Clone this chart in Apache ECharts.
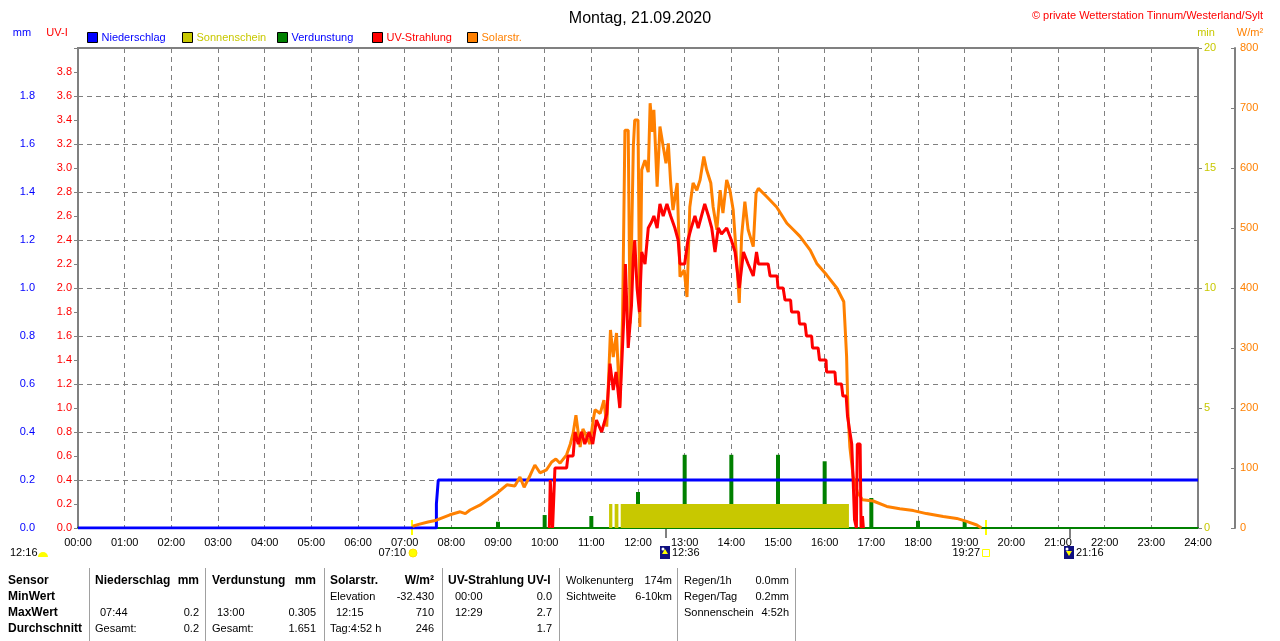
<!DOCTYPE html>
<html>
<head>
<meta charset="utf-8">
<title>Wetterstation Tinnum - 21.09.2020</title>
<script src="https://cdn.jsdelivr.net/npm/echarts@6/dist/echarts.min.js"></script>
<style>
html,body{margin:0;padding:0;background:#fff;}
#main{width:1280px;height:641px;}
</style>
</head>
<body>
<div id="main"></div>
<script>
// Niederschlag (mm, kumuliert)
var rainTimes = [0, 7.68, 7.72, 24];
var rainValues = [0, 0.1, 0.2, 0.2];

// Verdunstung (mm) zur vollen Stunde
var verdHours = [9, 10, 11, 12, 13, 14, 15, 16, 17, 18, 19];
var verdValues = [0.026, 0.054, 0.05, 0.15, 0.305, 0.305, 0.305, 0.278, 0.125, 0.03, 0.033];

// Sonnenschein (min pro Minute)
var sunStart = [11.38, 11.5, 11.63];
var sunEnd = [11.45, 11.58, 16.52];
var sunMinutes = [1, 1, 1];

// Solarstrahlung W/m²
var solarTimes = [7.17,7.3,7.5,7.68,7.97,8.19,8.3,8.4,8.61,8.83,8.98,9.19,9.36,9.47,9.56,9.69,9.79,9.9,10.04,10.15,10.24,10.33,10.47,10.55,10.61,10.67,10.76,10.82,10.97,11.04,11.08,11.19,11.27,11.33,11.41,11.47,11.54,11.61,11.67,11.72,11.79,11.83,11.9,11.93,12.0,12.04,12.08,12.15,12.22,12.26,12.31,12.34,12.41,12.47,12.54,12.6,12.65,12.7,12.75,12.84,12.9,12.99,13.05,13.11,13.18,13.26,13.33,13.41,13.47,13.56,13.61,13.69,13.76,13.82,13.9,13.97,14.04,14.11,14.17,14.22,14.29,14.36,14.47,14.53,14.58,14.76,14.97,15.19,15.33,15.47,15.69,15.83,16.04,16.26,16.41,16.43,16.47,16.5,16.54,16.61,16.7,16.81,17.04,17.33,17.61,17.9,18.18,18.54,18.83,19.04,19.26,19.36];
var solarValues = [3,6,10,13,22,27,24,30,38,50,58,72,70,85,68,88,105,92,97,110,115,108,122,140,158,188,135,165,140,180,197,191,213,169,330,285,325,202,352,663,663,341,636,680,680,335,597,613,593,708,660,697,569,669,636,608,641,575,530,575,419,430,385,535,575,563,580,619,597,575,535,497,563,525,580,563,530,452,375,486,544,497,469,558,566,552,535,508,497,486,463,441,422,400,377,347,286,191,135,86,60,47,45,36,32,29,24,19,16,11,5,0];

// UV-Index
var uvTimes = [10.1,10.12,10.16,10.17,10.2,10.22,10.47,10.5,10.61,10.65,10.72,10.79,10.86,10.95,11.03,11.11,11.22,11.33,11.4,11.47,11.53,11.61,11.69,11.73,11.79,11.86,11.9,11.93,11.98,12.03,12.08,12.15,12.22,12.29,12.34,12.41,12.47,12.54,12.62,12.7,12.79,12.86,12.9,13.0,13.07,13.14,13.22,13.29,13.36,13.43,13.51,13.58,13.65,13.72,13.79,13.9,14.0,14.08,14.17,14.26,14.36,14.47,14.54,14.58,14.79,14.83,14.98,15.0,15.11,15.15,15.27,15.29,15.44,15.46,15.58,15.61,15.72,15.74,15.86,15.89,16.03,16.04,16.22,16.24,16.36,16.39,16.46,16.49,16.54,16.58,16.61,16.64,16.68,16.7,16.76,16.78,16.81,16.83];
var uvValues = [0,0.4,0.4,0,0,0.5,0.5,0.6,0.6,0.8,0.7,0.8,0.7,0.8,0.7,0.9,0.8,0.95,1.37,1.15,1.3,1.0,1.7,2.2,1.5,1.85,2.26,2.4,2.0,1.8,2.3,2.2,2.5,2.55,2.6,2.5,2.7,2.6,2.7,2.6,2.5,2.4,2.2,2.2,2.4,2.5,2.6,2.5,2.6,2.7,2.6,2.5,2.3,2.5,2.45,2.5,2.4,2.3,2.0,2.3,2.2,2.1,2.3,2.2,2.2,2.1,2.1,2.0,2.0,1.9,1.9,1.8,1.8,1.7,1.7,1.6,1.6,1.5,1.5,1.4,1.4,1.3,1.3,1.2,1.2,1.1,1.1,0.93,0.8,0.7,0.4,0.07,0,0.7,0.7,0,0.1,0];

// Sonne / Mond
var eventLabels = ['07:10', '19:27', '12:36', '21:16'];
var eventHours = [7 + 10/60, 19 + 27/60, 12 + 36/60, 21 + 16/60];
var eventKinds = ['sunrise', 'sunset', 'moonrise', 'moonset'];
var dayLength = '12:16';

var legendNames = ['Niederschlag', 'Sonnenschein', 'Verdunstung', 'UV-Strahlung', 'Solarstr.'];

// Tabelle unten
var tableSensor = ['Sensor', 'MinWert', 'MaxWert', 'Durchschnitt'];
var tableRain = ['Niederschlag', 'mm', '', '', '07:44', '0.2', 'Gesamt:', '0.2'];
var tableEvap = ['Verdunstung', 'mm', '', '', '13:00', '0.305', 'Gesamt:', '1.651'];
var tableSolar = ['Solarstr.', 'W/m²', 'Elevation', '-32.430', '12:15', '710', 'Tag:4:52 h', '246'];
var tableUv = ['UV-Strahlung UV-I', '', '00:00', '0.0', '12:29', '2.7', '', '1.7'];
var tableCloud = ['Wolkenunterg', '174m', 'Sichtweite', '6-10km'];
var tableRegen = ['Regen/1h', '0.0mm', 'Regen/Tag', '0.2mm', 'Sonnenschein', '4:52h'];

var FONT = '"Liberation Sans", Arial, sans-serif';
var cRain = '#0000ff', cSun = '#c8c800', cEvap = '#008000', cUv = '#ff0000', cSolar = '#ff8000';
var gridCol = '#808080';

function pairs(xs, ys) {
	var out = [];
	for (var i = 0; i < xs.length; i++) out.push([xs[i], ys[i]]);
	return out;
}
function pad(h) { return (h < 10 ? '0' : '') + h + ':00'; }

var sunData = [];
for (var i = 0; i < sunStart.length; i++) {
	sunData.push([sunStart[i], 0], [sunStart[i], sunMinutes[i]], [sunEnd[i], sunMinutes[i]], [sunEnd[i], 0]);
}

var legendColors = [cRain, cSun, cRain, cUv, cSolar];
var legendLeft = [87, 182, 277, 372, 467];

var myChart = echarts.init(document.getElementById('main'), null, {renderer: 'canvas'});

var option = {
	animation: false,
	textStyle: {fontFamily: FONT},
	title: [
		{text: 'Montag, 21.09.2020', left: 'center', top: 6,
		 textStyle: {fontSize: 16, fontWeight: 'normal', color: '#000', fontFamily: FONT}},
		{text: '© private Wetterstation Tinnum/Westerland/Sylt', right: 12, top: 5,
		 textStyle: {fontSize: 11, fontWeight: 'normal', color: '#ff0000', fontFamily: FONT}}
	],
	legend: legendNames.map(function (n, i) {
		return {
			data: [n], left: legendLeft[i], top: 32, padding: 0,
			icon: 'rect', itemWidth: 10, itemHeight: 10,
			itemStyle: {borderColor: '#000', borderWidth: 1},
			textStyle: {color: legendColors[i], fontSize: 11, fontFamily: FONT, padding: [0, 0, 0, -1]}
		};
	}),
	grid: {left: 78, right: 82, top: 48, bottom: 113, show: true, borderColor: gridCol, borderWidth: 2, backgroundColor: '#fff'},
	xAxis: {
		type: 'value', min: 0, max: 24, interval: 1,
		axisLine: {lineStyle: {color: cEvap, width: 2}},
		axisTick: {show: false},
		axisLabel: {formatter: pad, color: '#000', fontSize: 11, margin: 9, fontFamily: FONT},
		splitLine: {show: true, lineStyle: {color: gridCol, type: [5, 4], width: 1}}
	},
	yAxis: [
		{type: 'value', min: 0, max: 2, interval: 0.2, position: 'left', offset: 38,
		 axisLine: {show: true, lineStyle: {color: gridCol, width: 2}},
		 axisTick: {show: true, length: 4, lineStyle: {color: gridCol}},
		 axisLabel: {color: cRain, fontSize: 11, margin: 5, fontFamily: FONT,
		 	formatter: function (v) { return v > 1.99 ? '' : v.toFixed(1); }},
		 splitLine: {show: true, lineStyle: {color: gridCol, type: [5, 4], width: 1}}},
		{type: 'value', min: 0, max: 4, interval: 0.2, position: 'left', offset: 0,
		 axisLine: {show: true, lineStyle: {color: gridCol, width: 2}},
		 axisTick: {show: true, length: 4, lineStyle: {color: gridCol}},
		 axisLabel: {color: cUv, fontSize: 11, margin: 6, fontFamily: FONT,
		 	formatter: function (v) { return v > 3.99 ? '' : v.toFixed(1); }},
		 splitLine: {show: false}},
		{type: 'value', min: 0, max: 20, interval: 5, position: 'right', offset: 0,
		 axisLine: {show: true, lineStyle: {color: gridCol, width: 2}},
		 axisTick: {show: true, length: 4, lineStyle: {color: gridCol}},
		 axisLabel: {color: cSun, fontSize: 11, margin: 6, fontFamily: FONT},
		 splitLine: {show: false}},
		{type: 'value', min: 0, max: 800, interval: 100, position: 'right', offset: 37,
		 axisLine: {show: true, lineStyle: {color: gridCol, width: 2}},
		 axisTick: {show: true, inside: true, length: 4, lineStyle: {color: gridCol}},
		 axisLabel: {color: cSolar, fontSize: 11, margin: 5, fontFamily: FONT},
		 splitLine: {show: false}}
	],
	series: [
		{name: 'Sonnenschein', type: 'line', yAxisIndex: 2, data: sunData,
		 color: cSun, showSymbol: false, itemStyle: {color: cSun},
		 lineStyle: {width: 0, opacity: 0}, areaStyle: {color: cSun, opacity: 1}},
		{name: 'Verdunstung', type: 'bar', yAxisIndex: 0, data: pairs(verdHours, verdValues),
		 barWidth: 4, color: cEvap, itemStyle: {color: cEvap}},
		{name: 'Niederschlag', type: 'line', yAxisIndex: 0, data: pairs(rainTimes, rainValues),
		 step: 'end', showSymbol: false, color: cRain, itemStyle: {color: cRain},
		 lineStyle: {color: cRain, width: 3}},
		{name: 'Solarstr.', type: 'line', yAxisIndex: 3, data: pairs(solarTimes, solarValues),
		 showSymbol: false, color: cSolar, itemStyle: {color: cSolar},
		 lineStyle: {color: cSolar, width: 3}},
		{name: 'UV-Strahlung', type: 'line', yAxisIndex: 1, data: pairs(uvTimes, uvValues),
		 showSymbol: false, color: cUv, itemStyle: {color: cUv},
		 lineStyle: {color: cUv, width: 3}}
	]
};
myChart.setOption(option);

// Zusatzelemente: Achsennamen, Sonne/Mond, Tabelle
var g = [];
function txt(t, x, y, color, align, bold, size) {
	g.push({type: 'text', silent: true, style: {
		text: t, x: x, y: y, fill: color || '#000', align: align || 'left', verticalAlign: 'middle',
		font: (bold ? 'bold ' : '') + (size || 11) + 'px ' + FONT}});
}
function seg(x1, y1, x2, y2, color, w) {
	g.push({type: 'line', silent: true, shape: {x1: x1, y1: y1, x2: x2, y2: y2}, style: {stroke: color, lineWidth: w || 1}});
}

txt('mm', 22, 33, cRain, 'center');
txt('UV-I', 57, 33, cUv, 'center');
txt('min', 1206, 33, cSun, 'center');
txt('W/m²', 1250, 33, cSolar, 'center');

var baseY = myChart.convertToPixel({yAxisIndex: 0}, 0);
var evY = baseY + 25;

txt(dayLength, 10, evY, '#000');
g.push({type: 'sector', silent: true, shape: {cx: 43, cy: evY + 4, r: 5, startAngle: Math.PI, endAngle: Math.PI * 2},
	style: {fill: '#ffff00'}});

for (var k = 0; k < eventHours.length; k++) {
	var ex = Math.round(myChart.convertToPixel({xAxisIndex: 0}, eventHours[k]));
	var kind = eventKinds[k];
	if (kind === 'sunrise' || kind === 'sunset') {
		seg(ex, baseY - 8, ex, baseY + 7, '#ffff00', 2);
		txt(eventLabels[k], ex - 6, evY, '#000', 'right');
		if (kind === 'sunrise') {
			g.push({type: 'circle', silent: true, shape: {cx: ex + 1, cy: evY, r: 4}, style: {fill: '#ffff00', stroke: '#ffe000', lineWidth: 1}});
		} else {
			g.push({type: 'rect', silent: true, shape: {x: ex - 3.5, y: evY - 3.5, width: 7, height: 7}, style: {fill: '#fff', stroke: '#ffff00', lineWidth: 1}});
		}
	} else {
		seg(ex, baseY, ex, baseY + 10, gridCol, 2);
		g.push({type: 'rect', silent: true, shape: {x: ex - 6, y: evY - 7, width: 10, height: 13}, style: {fill: '#101080'}});
		var up = kind === 'moonrise';
		g.push({type: 'polygon', silent: true, shape: {points: up
			? [[ex - 1, evY - 4], [ex + 2, evY + 1], [ex - 4, evY + 1]]
			: [[ex - 1, evY + 3], [ex + 2, evY - 2], [ex - 4, evY - 2]]}, style: {fill: '#ffff00'}});
		g.push({type: 'circle', silent: true, shape: {cx: ex - 3, cy: evY - 4, r: 1.5}, style: {fill: '#ffffff'}});
		txt(eventLabels[k], ex + 6, evY, '#000', 'left');
	}
}

// Tabelle
var rowY = [581, 597, 613, 629];
var seps = [89, 205, 324, 442, 559, 677, 795];
seps.forEach(function (x) { seg(x + 0.5, 568, x + 0.5, 641, '#a0a0a0', 1); });
tableSensor.forEach(function (t, i) { txt(t, 8, rowY[i], '#000', 'left', true, 12); });

function block(arr, xl, xr, xl2) {
	for (var r = 0; r < 4; r++) {
		var a = arr[r * 2], b = arr[r * 2 + 1];
		if (a) txt(a, (r === 0 || a.indexOf(':') !== 2 || a.length > 5) ? xl : xl2, rowY[r], '#000', 'left', r === 0, r === 0 ? 12 : 11);
		if (b) txt(b, xr, rowY[r], '#000', 'right', r === 0, r === 0 ? 12 : 11);
	}
}
block(tableRain, 95, 199, 100);
block(tableEvap, 212, 316, 217);
block(tableSolar, 330, 434, 336);
block(tableUv, 448, 552, 455);
for (var c = 0; c < 2; c++) {
	txt(tableCloud[c * 2], 566, rowY[c], '#000', 'left');
	txt(tableCloud[c * 2 + 1], 672, rowY[c], '#000', 'right');
}
for (var d = 0; d < 3; d++) {
	txt(tableRegen[d * 2], 684, rowY[d], '#000', 'left');
	txt(tableRegen[d * 2 + 1], 789, rowY[d], '#000', 'right');
}

myChart.setOption({graphic: g});
</script>
</body>
</html>
